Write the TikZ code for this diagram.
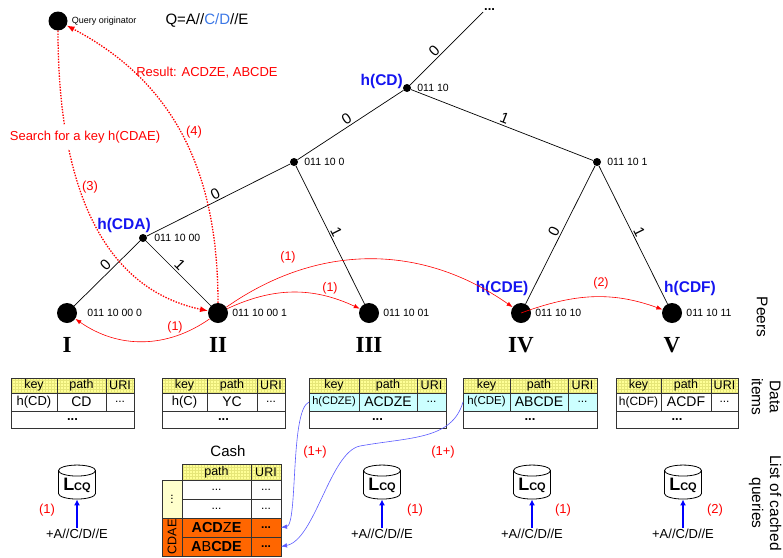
\documentclass[tikz,border=0pt]{standalone}
\usepackage{fontspec}
\setmainfont{Liberation Sans}
\newfontfamily\romanfont{Liberation Serif}
\usetikzlibrary{arrows.meta}
\usetikzlibrary{positioning}
\usetikzlibrary{shapes.geometric}
\usetikzlibrary{patterns}

\definecolor{hblue}{RGB}{20,20,240}
\definecolor{qblue}{RGB}{60,120,230}
\definecolor{linkblue}{RGB}{90,90,255}
\definecolor{headyellow}{RGB}{255,255,150}
\definecolor{gridyellow}{RGB}{230,230,120}
\definecolor{sideyellow}{RGB}{255,255,204}
\definecolor{hitcyan}{RGB}{204,255,255}
\definecolor{cashorange}{RGB}{255,102,0}

\newcommand{\fsz}[1]{\fontsize{#1}{#1}\selectfont}

\tikzset{
  peer/.style={circle, fill=black, minimum size=20pt, inner sep=0pt},
  branch/.style={circle, fill=black, minimum size=8pt, inner sep=0pt},
  trie/.style={draw, line width=0.7pt},
  bit/.style={font=\fsz{15}, sloped, above, inner sep=1.5pt},
  bits/.style={font=\fsz{10.5}, inner sep=1pt},
  hlabel/.style={font=\fsz{15.5}\bfseries, text=hblue, inner sep=0pt},
  roman/.style={font=\romanfont\bfseries\fsz{23}, inner sep=0pt},
  redtext/.style={font=\fsz{13}, text=red, inner sep=1pt},
  fwd/.style={draw=red, line width=0.6pt, -{Latex[length=6pt,width=4.5pt]}},
  search/.style={draw=red, line width=1.3pt, dash pattern=on 1.4pt off 1.4pt, -{Latex[length=8pt,width=6pt]}},
  link/.style={draw=linkblue, line width=0.6pt, -{Latex[length=6pt,width=4.5pt]}},
  qarrow/.style={draw=blue, line width=1.2pt, -{Latex[length=6pt,width=6pt]}},
  cell/.style={draw=black!80, line width=0.8pt, rectangle, inner sep=0pt, outer sep=0pt, anchor=north west},
  headcell/.style={cell, minimum height=15pt, font=\fsz{12.5}, pattern=grid, pattern color=gridyellow, preaction={fill=headyellow}},
  datacell/.style={cell, minimum height=18pt, font=\fsz{14}},
  morecell/.style={cell, minimum height=17pt, font=\fsz{13}\bfseries},
  cashcell/.style={cell, minimum height=19pt, font=\fsz{12}},
  lcq/.style={cylinder, shape border rotate=90, draw, line width=0.8pt, aspect=0.4, minimum width=37pt, minimum height=34pt, inner sep=0pt, font=\bfseries},
  qtext/.style={font=\fsz{13}, inner sep=1pt},
  sidetext/.style={font=\fontsize{15.5}{18}\selectfont, rotate=-90, align=center},
}

\begin{document}
\begin{tikzpicture}[x=1pt, y=1pt]
    \useasboundingbox (0,0) rectangle (783,-557);

    % query originator
    \node [peer, minimum size=19pt] (qo) at (58,-21) {};
    \node [font=\fsz{9}, inner sep=0pt] (qotext) [right=4pt of qo] {Query originator};
    \node [font=\fsz{15}] (query) at (207,-20) {Q=A//\textcolor{qblue}{C/D}//E};

    % trie
    \node [branch] (cd) at (407,-88) {};
    \coordinate (topend) at (483,-12);
    \node [anchor=base west, inner sep=0pt, font=\fsz{13}\bfseries] (top) at (484,-10) {...};
    \node [branch] (n0) at (294,-162) {};
    \node [branch] (n1) at (597,-162) {};
    \node [branch] (cda) at (143,-238) {};
    \foreach \i/\x in {1/67,2/218,3/369,4/521,5/672}
        \node [peer] (p\i) at (\x,-313) {};
    \foreach \i/\r in {1/I,2/II,3/III,4/IV,5/V}
        \node [roman] (r\i) at ([yshift=-32pt]p\i) {\r};

    \path [trie]
        (cd) edge node [bit, pos=0.4] {0} (topend)
        (cd) edge node [bit] {0} (n0)
        (cd) edge node [bit] {1} (n1)
        (n0) edge node [bit] {0} (cda)
        (n0) edge node [bit] {1} (p3)
        (cda) edge node [bit, pos=0.45] {0} (p1)
        (cda) edge node [bit, pos=0.45] {1} (p2)
        (n1) edge node [bit] {0} (p4)
        (n1) edge node [bit] {1} (p5);

    \node [bits] (cdbits) [right=5pt of cd] {011 10};
    \node [bits] (n0bits) [right=5pt of n0] {011 10 0};
    \node [bits] (n1bits) [right=5pt of n1] {011 10 1};
    \node [bits] (cdabits) [right=6pt of cda] {011 10 00};
    \node [bits] (p1bits) [right=9pt of p1] {011 10 00 0};
    \node [bits] (p2bits) [right=3pt of p2] {011 10 00 1};
    \node [bits] (p3bits) [right=3pt of p3] {011 10 01};
    \node [bits] (p4bits) [right=3pt of p4] {011 10 10};
    \node [bits] (p5bits) [right=3pt of p5] {011 10 11};

    \node [hlabel, anchor=east] (cdlab) at (403,-81) {h(CD)};
    \node [hlabel] (cdalab) at (124,-225) {h(CDA)};
    \node [hlabel] (cdelab) at (502,-288) {h(CDE)};
    \node [hlabel] (cdflab) at (690,-288) {h(CDF)};

    % forwarding (1), (2)
    \draw [fwd] (p2) to [out=-145, in=-35] (p1);
    \draw [fwd] (p2) to [out=25, in=155] (p3);
    \draw [fwd] (p2) to [out=35, in=145] (p4);
    \draw [fwd] (p4.center) to [out=20, in=160] (p5);
    \node [redtext, font=\fsz{12.5}] (f1) at (175,-327) {(1)};
    \node [redtext, font=\fsz{12.5}] (f2) at (330,-288) {(1)};
    \node [redtext, font=\fsz{12.5}] (f3) at (288,-257) {(1)};
    \node [redtext, font=\fsz{12.5}] (f4) at (601,-283) {(2)};

    % search (3) and result (4)
    \draw [search] (qo) .. controls (58,-200) and (110,-290) .. (p2);
    \node [redtext, fill=white, inner ysep=6pt] (searchlab) at (85,-137) {Search for a key h(CDAE)};
    \draw [search] (p2) .. controls (218,-180) and (180,-85) .. (qo);
    \node [redtext] (s3) at (90,-187) {(3)};
    \node [redtext] (s4) at (194,-132) {(4)};
    \node [redtext] (result) at (207,-73) {Result: ACDZE, ABCDE};

    % data items
    \foreach \i/\x/\kw/\pw/\uw/\kt/\kf/\pv/\col in {
        1/11/46/49/28/h(CD)/13/CD/white,
        2/162/45/50/28/h(C)/13/YC/white,
        3/309/50/58/29/h(CDZE)/11/ACDZE/hitcyan,
        4/463/47/58/29/h(CDE)/11.5/ABCDE/hitcyan,
        5/616/45/50/27/h(CDF)/12/ACDF/white}
    {
        \node [headcell, minimum width=\kw pt] (dk\i) at (\x,-378) {key};
        \node [headcell, minimum width=\pw pt] (dp\i) at (dk\i.north east) {path};
        \node [headcell, minimum width=\uw pt] (du\i) at (dp\i.north east) {URI};
        \node [datacell, fill=\col, minimum width=\kw pt, font=\fsz{\kf}] (dkv\i) at (dk\i.south west) {\kt};
        \node [datacell, fill=\col, minimum width=\pw pt] (dpv\i) at (dkv\i.north east) {\pv};
        \node [datacell, fill=\col, minimum width=\uw pt, font=\fsz{12}] (duv\i) at (dpv\i.north east) {...};
        \node [morecell, minimum width={(\kw+\pw+\uw)*1pt}] (dm\i) at (dkv\i.south west) {...};
    }

    % cash
    \node [font=\fsz{15}] (cash) at (228,-451) {Cash};
    \node [headcell, minimum width=69pt, minimum height=16pt] (ch) at (182,-464) {path};
    \node [headcell, minimum width=30pt, minimum height=16pt] (chu) at (ch.north east) {URI};
    \node [cashcell, fill=white, minimum width=69pt] (cr1) at (ch.south west) {...};
    \node [cashcell, fill=white, minimum width=30pt] (cr1u) at (cr1.north east) {...};
    \node [cashcell, fill=white, minimum width=69pt] (cr2) at (cr1.south west) {...};
    \node [cashcell, fill=white, minimum width=30pt] (cr2u) at (cr2.north east) {...};
    \node [cashcell, fill=cashorange, minimum width=69pt, font=\fsz{14.5}] (cr3) at (cr2.south west) {{\bfseries ACD}Z{\bfseries E}};
    \node [cashcell, fill=cashorange, minimum width=30pt, font=\fsz{12}\bfseries] (cr3u) at (cr3.north east) {...};
    \node [cashcell, fill=cashorange, minimum width=69pt, font=\fsz{14.5}] (cr4) at (cr3.south west) {{\bfseries A}B{\bfseries CDE}};
    \node [cashcell, fill=cashorange, minimum width=30pt, font=\fsz{12}\bfseries] (cr4u) at (cr4.north east) {...};
    \node [cell, fill=sideyellow, minimum width=20pt, minimum height=38pt, font=\fsz{12}] (cs1) at (cr1.north west) [anchor=north east] {\rotatebox{90}{...}};
    \node [cell, fill=cashorange, minimum width=20pt, minimum height=38pt, font=\fsz{12.5}] (cs2) at (cs1.south west) {\rotatebox{90}{CDAE}};

    % cached links (1+)
    \draw [link] (dkv3.west) .. controls (290,-410) and (298,-525) .. (cr3u.east);
    \draw [link] (dkv4.west) .. controls (452,-440) and (410,-437) .. (360,-446)
        .. controls (330,-452) and (315,-540) .. (cr4u.east);
    \node [redtext] (c1) at (315,-452) {(1+)};
    \node [redtext] (c2) at (443,-452) {(1+)};

    % lists of cached queries
    \foreach \i/\x in {1/77,2/382,3/532,4/683}
    {
        \node [lcq] (l\i) at (\x,-485) {{\fsz{18}L}{\fsz{11}CQ}};
        \node [qtext] (qt\i) at (\x,-534) {+A//C/D//E};
        \draw [qarrow] (qt\i) -- (l\i);
    }
    \node [redtext] (ln1) at (47,-510) {(1)};
    \node [redtext] (ln2) at (415,-510) {(1)};
    \node [redtext] (ln3) at (563,-510) {(1)};
    \node [redtext] (ln4) at (715,-510) {(2)};

    % row captions
    \node [sidetext] (peers) at (762,-317) {Peers};
    \node [sidetext] (items) at (766,-397) {Data\\items};
    \node [sidetext] (cached) at (765,-503) {List of cached\\queries};
\end{tikzpicture}
\end{document}
